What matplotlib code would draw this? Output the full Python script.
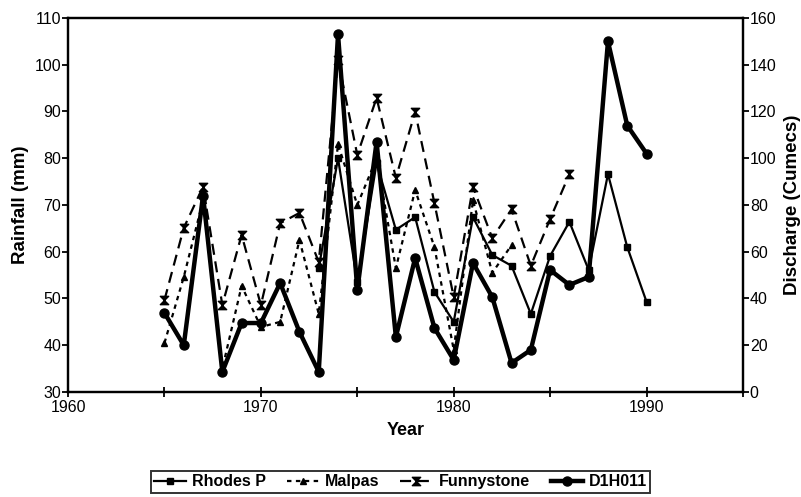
import numpy as np
import matplotlib
matplotlib.use("Agg")
import matplotlib.pyplot as plt
from matplotlib.path import Path

# rainfall stations (mm), discharge station (cumecs)
rhodes_years = np.arange(1973, 1991)
rhodes_p = [56.5, 80, 53.5, 79, 64.7, 67.4, 51.4, 45.0, 67.4, 59.3, 57.0, 46.7,
            59.1, 66.4, 56.1, 76.6, 61.0, 49.3]

malpas_years = np.arange(1965, 1984)
malpas = [40.5, 54.6, 71, 35, 52.7, 43.9, 45.0, 62.5, 46.7, 83, 70, 80,
          56.5, 73.2, 61.0, 39, 71, 55.5, 61.4]

funny_years = np.arange(1965, 1987)
funnystone = [49.7, 65.1, 73.9, 48.6, 63.6, 48.6, 66.1, 68.3, 57.8, 101, 80.7, 92.9,
              75.8, 89.9, 70.4, 50.3, 73.9, 62.9, 69.1, 57.0, 67.0, 76.6]

d1h_years = np.arange(1965, 1991)
d1h011 = [33.8, 20, 84, 8.6, 29.5, 29.5, 46.6, 25.7, 8.6, 153, 43.6, 107,
          23.5, 57.3, 27.4, 13.7, 55.2, 40.6, 12.4, 18, 52.2, 45.8, 49.2, 150, 114, 102]

plt.rcParams['font.family'] = ['Liberation Sans Narrow', 'Liberation Sans', 'DejaVu Sans']

# hourglass marker like the scanned one
hourglass = Path([(-1, 1), (1, 1), (-1, -1), (1, -1), (-1, 1)],
                 [Path.MOVETO, Path.LINETO, Path.LINETO, Path.LINETO, Path.CLOSEPOLY])

fig = plt.figure(figsize=(8.01, 4.97), dpi=100)
ax = fig.add_axes([0.085, 0.2113, 0.8425, 0.7525])
ax2 = ax.twinx()

l1, = ax.plot(rhodes_years, rhodes_p, color='k', lw=1.6, marker='s', ms=5,
              label='Rhodes P')
l2, = ax.plot(malpas_years, malpas, color='k', lw=1.6, ls=(0, (2, 2)), marker='^', ms=5,
              label='Malpas')
l3, = ax.plot(funny_years, funnystone, color='k', lw=1.6, ls=(0, (5, 3)), marker=hourglass,
              ms=6, label='Funnystone')
l4, = ax2.plot(d1h_years, d1h011, color='k', lw=3.2, marker='o', ms=6.5, label='D1H011')

ax.set_xlim(1960, 1995)
ax.set_ylim(30, 110)
ax2.set_ylim(0, 160)
ax.set_xticks([1960, 1970, 1980, 1990])
ax.set_xticks([1965, 1975, 1985, 1995], minor=True)
ax.set_yticks(np.arange(30, 111, 10))
ax2.set_yticks(np.arange(0, 161, 20))

for a in (ax, ax2):
    for s in a.spines.values():
        s.set_linewidth(1.6)
ax.tick_params(axis='x', which='both', direction='inout', length=7, width=1.3,
               labelsize=11.5, pad=2)
ax.tick_params(axis='y', direction='out', length=4, width=1.3, labelsize=11.5, pad=1)
ax2.tick_params(axis='y', direction='out', length=4, width=1.3, labelsize=11.5, pad=1)

ax.set_xlabel('Year', fontsize=13, fontweight='bold', family='Liberation Sans', labelpad=5)
ax.set_ylabel('Rainfall (mm)', fontsize=13.5, fontweight='bold', family='Liberation Sans',
              labelpad=4)
ax2.set_ylabel('Discharge (Cumecs)', fontsize=13.5, fontweight='bold', family='Liberation Sans',
               labelpad=5)

leg = fig.legend(handles=[l1, l2, l3, l4], loc='upper center', bbox_to_anchor=(0.5, 0.068),
                 ncol=4, frameon=True, fancybox=False, edgecolor='k', handlelength=2.0,
                 columnspacing=1.3, borderpad=0.2, handletextpad=0.4,
                 prop={'family': 'Liberation Sans', 'weight': 'bold', 'size': 11.5})
leg.get_frame().set_linewidth(1.4)

fig.savefig('out.png', dpi=100)
